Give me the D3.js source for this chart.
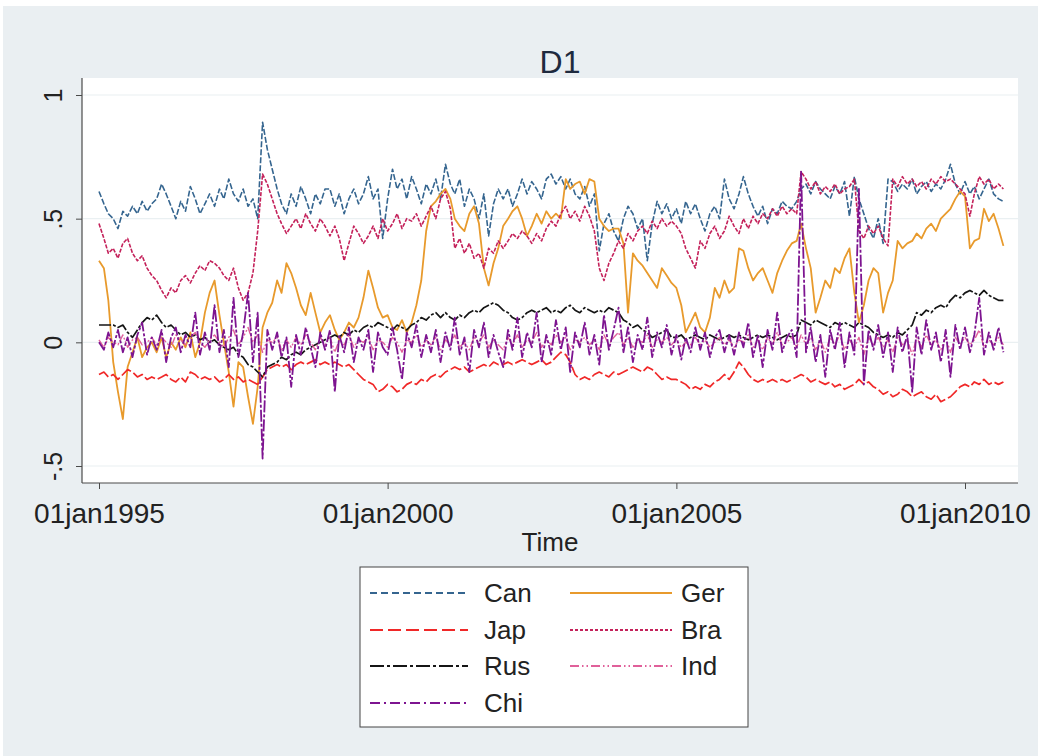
<!DOCTYPE html>
<html><head><meta charset="utf-8">
<script src="https://cdn.jsdelivr.net/npm/d3@7/dist/d3.min.js"></script>
<style>body{margin:0;background:#fff;}svg{display:block;font-family:"Liberation Sans",Arial,sans-serif;}</style>
</head><body>
<svg id="c" width="1038" height="756"></svg>
<script>
// ---- data (monthly readings, Jan 1995 – Sep 2010) ----
const seriesNames = ["Can","Ger","Jap","Bra","Rus","Ind","Chi"];
const yTicks = [-0.5, 0, 0.5, 1];
const yTickLabels = ["-.5","0",".5","1"];
const xTickYears = [1995, 2000, 2005, 2010];
const xTickLabels = ["01jan1995","01jan2000","01jan2005","01jan2010"];

const Can = [
0.61,0.56,0.52,0.50,0.46,0.53,0.51,0.55,0.52,0.57,0.53,0.56,
0.58,0.64,0.60,0.55,0.50,0.57,0.53,0.63,0.58,0.52,0.56,0.60,
0.55,0.62,0.58,0.66,0.60,0.57,0.62,0.55,0.58,0.50,0.89,0.78,
0.70,0.62,0.56,0.52,0.60,0.55,0.63,0.58,0.52,0.60,0.56,0.62,
0.62,0.55,0.60,0.52,0.58,0.62,0.56,0.60,0.67,0.58,0.62,0.42,
0.58,0.70,0.62,0.66,0.58,0.67,0.62,0.56,0.64,0.60,0.66,0.58,
0.72,0.64,0.60,0.66,0.55,0.62,0.58,0.50,0.60,0.43,0.56,0.62,
0.58,0.62,0.55,0.60,0.66,0.60,0.65,0.62,0.58,0.66,0.68,0.64,
0.67,0.62,0.66,0.60,0.58,0.63,0.55,0.60,0.37,0.48,0.52,0.45,
0.41,0.50,0.55,0.52,0.46,0.50,0.33,0.48,0.57,0.52,0.56,0.50,
0.54,0.48,0.57,0.52,0.56,0.50,0.45,0.52,0.55,0.50,0.66,0.58,
0.54,0.60,0.67,0.60,0.55,0.51,0.55,0.48,0.54,0.52,0.57,0.55,
0.54,0.57,0.62,0.64,0.60,0.65,0.62,0.60,0.58,0.63,0.60,0.65,
0.51,0.67,0.58,0.52,0.46,0.42,0.50,0.40,0.66,0.65,0.61,0.64,
0.62,0.66,0.60,0.63,0.65,0.61,0.64,0.62,0.66,0.72,0.64,0.60,
0.65,0.60,0.63,0.58,0.62,0.66,0.60,0.58,0.57];

const Ger = [
0.33,0.30,0.17,-0.08,-0.20,-0.31,-0.10,-0.04,0.02,-0.06,-0.02,0.00,
-0.04,0.02,-0.06,0.00,-0.03,0.02,-0.02,0.04,-0.06,0.00,0.12,0.20,
0.25,0.11,0.00,-0.12,-0.26,-0.08,-0.10,-0.22,-0.33,-0.18,0.06,0.12,
0.16,0.25,0.20,0.32,0.28,0.22,0.15,0.11,0.20,0.12,0.04,0.08,
0.11,0.05,0.01,0.04,0.08,0.06,0.10,0.18,0.29,0.22,0.14,0.10,
0.11,0.06,0.05,0.09,0.04,0.08,0.15,0.25,0.45,0.55,0.57,0.60,
0.62,0.58,0.50,0.47,0.45,0.52,0.55,0.48,0.30,0.23,0.32,0.38,
0.47,0.50,0.53,0.55,0.50,0.43,0.47,0.52,0.48,0.53,0.50,0.52,
0.50,0.66,0.62,0.64,0.65,0.60,0.66,0.65,0.50,0.47,0.45,0.46,
0.46,0.40,0.12,0.36,0.33,0.31,0.28,0.25,0.22,0.30,0.27,0.24,
0.22,0.15,0.04,0.08,0.12,0.06,0.04,0.10,0.22,0.18,0.25,0.20,
0.22,0.38,0.37,0.30,0.25,0.28,0.30,0.25,0.20,0.28,0.33,0.37,
0.40,0.41,0.48,0.38,0.30,0.12,0.18,0.25,0.22,0.30,0.28,0.34,
0.38,0.20,0.08,0.15,0.25,0.30,0.28,0.12,0.20,0.25,0.41,0.38,
0.40,0.41,0.44,0.42,0.46,0.48,0.45,0.50,0.52,0.54,0.58,0.61,
0.59,0.38,0.41,0.42,0.54,0.49,0.52,0.46,0.39];

const Jap = [
-0.13,-0.12,-0.14,-0.13,-0.15,-0.13,-0.11,-0.12,-0.14,-0.13,-0.15,-0.14,
-0.15,-0.14,-0.13,-0.15,-0.16,-0.14,-0.16,-0.12,-0.13,-0.15,-0.14,-0.15,
-0.14,-0.16,-0.15,-0.13,-0.15,-0.14,-0.16,-0.15,-0.16,-0.17,-0.14,-0.11,
-0.10,-0.09,-0.10,-0.09,-0.11,-0.09,-0.08,-0.09,-0.08,-0.07,-0.09,-0.08,
-0.09,-0.08,-0.09,-0.10,-0.09,-0.11,-0.13,-0.15,-0.16,-0.17,-0.20,-0.19,
-0.17,-0.18,-0.20,-0.19,-0.17,-0.16,-0.17,-0.15,-0.16,-0.14,-0.13,-0.14,
-0.12,-0.11,-0.10,-0.11,-0.10,-0.12,-0.11,-0.10,-0.09,-0.10,-0.08,-0.09,
-0.09,-0.08,-0.09,-0.08,-0.07,-0.08,-0.09,-0.08,-0.07,-0.09,-0.08,-0.06,
-0.04,-0.05,-0.08,-0.13,-0.15,-0.14,-0.15,-0.13,-0.12,-0.13,-0.14,-0.12,
-0.13,-0.12,-0.11,-0.10,-0.11,-0.12,-0.10,-0.11,-0.13,-0.15,-0.14,-0.15,
-0.15,-0.16,-0.17,-0.19,-0.18,-0.19,-0.17,-0.18,-0.16,-0.15,-0.13,-0.15,
-0.12,-0.08,-0.10,-0.13,-0.15,-0.16,-0.15,-0.16,-0.15,-0.16,-0.15,-0.16,
-0.15,-0.14,-0.13,-0.14,-0.16,-0.15,-0.16,-0.17,-0.16,-0.18,-0.17,-0.19,
-0.18,-0.17,-0.15,-0.17,-0.16,-0.18,-0.19,-0.21,-0.20,-0.22,-0.21,-0.19,
-0.20,-0.22,-0.21,-0.20,-0.22,-0.23,-0.21,-0.24,-0.23,-0.22,-0.20,-0.18,
-0.17,-0.18,-0.16,-0.17,-0.15,-0.17,-0.16,-0.17,-0.16];

const Bra = [
0.48,0.42,0.36,0.38,0.34,0.40,0.42,0.36,0.33,0.35,0.30,0.27,
0.25,0.21,0.18,0.22,0.20,0.25,0.27,0.24,0.28,0.31,0.29,0.33,
0.32,0.30,0.27,0.25,0.30,0.22,0.17,0.20,0.28,0.45,0.68,0.64,
0.58,0.52,0.48,0.44,0.47,0.50,0.46,0.52,0.48,0.45,0.50,0.47,
0.43,0.47,0.42,0.33,0.40,0.47,0.44,0.40,0.43,0.47,0.42,0.50,
0.45,0.48,0.52,0.46,0.50,0.49,0.52,0.47,0.51,0.55,0.50,0.58,
0.61,0.54,0.38,0.42,0.36,0.40,0.34,0.36,0.30,0.38,0.36,0.41,
0.38,0.41,0.44,0.42,0.45,0.43,0.40,0.44,0.41,0.46,0.49,0.47,
0.52,0.55,0.50,0.53,0.49,0.55,0.51,0.45,0.30,0.25,0.32,0.36,
0.41,0.38,0.44,0.41,0.45,0.47,0.44,0.49,0.46,0.50,0.47,0.49,
0.47,0.44,0.38,0.34,0.30,0.41,0.38,0.44,0.47,0.42,0.45,0.51,
0.47,0.44,0.50,0.46,0.51,0.48,0.52,0.50,0.54,0.51,0.55,0.52,
0.54,0.52,0.69,0.66,0.62,0.65,0.60,0.63,0.61,0.64,0.60,0.62,
0.63,0.66,0.45,0.42,0.47,0.44,0.47,0.42,0.39,0.66,0.63,0.67,
0.64,0.66,0.63,0.65,0.62,0.66,0.64,0.67,0.65,0.66,0.64,0.62,
0.60,0.51,0.60,0.67,0.64,0.66,0.62,0.64,0.62];

const Rus = [
0.07,0.07,0.07,0.07,0.06,0.07,0.04,0.02,0.05,0.08,0.10,0.09,
0.11,0.08,0.06,0.07,0.05,0.03,0.04,0.02,0.03,0.01,0.02,0.00,
0.01,-0.01,-0.02,-0.03,-0.02,-0.05,-0.06,-0.09,-0.10,-0.12,-0.14,-0.10,
-0.09,-0.08,-0.06,-0.07,-0.05,-0.04,-0.05,-0.03,-0.02,-0.01,0.00,0.01,
0.02,0.03,0.02,0.04,0.03,0.05,0.04,0.06,0.07,0.06,0.08,0.07,
0.06,0.05,0.07,0.06,0.05,0.07,0.08,0.10,0.09,0.11,0.12,0.10,
0.12,0.10,0.09,0.11,0.10,0.12,0.13,0.12,0.14,0.15,0.16,0.15,
0.13,0.12,0.10,0.09,0.10,0.12,0.13,0.12,0.13,0.14,0.12,0.13,
0.12,0.14,0.15,0.13,0.12,0.14,0.13,0.12,0.13,0.12,0.14,0.13,
0.12,0.09,0.08,0.06,0.07,0.05,0.04,0.02,0.03,0.04,0.05,0.02,
0.02,0.03,0.01,0.02,0.03,0.02,0.01,0.03,0.02,0.01,0.02,0.03,
0.02,0.03,0.02,0.01,0.02,0.03,0.02,0.03,0.02,0.01,0.02,0.03,
0.02,0.03,0.09,0.08,0.07,0.09,0.08,0.07,0.06,0.08,0.07,0.08,
0.07,0.06,0.08,0.07,0.06,0.04,0.03,0.02,0.03,0.02,0.04,0.03,
0.05,0.07,0.12,0.11,0.13,0.12,0.14,0.15,0.14,0.17,0.19,0.18,
0.20,0.21,0.20,0.19,0.21,0.19,0.18,0.17,0.17];

const Ind = [
0.01,-0.02,0.02,0.00,-0.01,0.03,-0.02,0.01,0.02,-0.01,0.00,0.02,
-0.01,0.02,0.00,-0.02,0.03,0.01,-0.01,0.02,0.04,0.00,-0.02,0.01,
0.03,0.00,-0.02,0.02,0.05,-0.01,0.02,0.06,0.00,0.03,-0.04,0.01,
0.00,0.02,-0.03,0.01,-0.02,0.02,-0.01,0.03,0.00,-0.03,0.02,-0.01,
0.02,-0.04,0.01,-0.01,0.03,-0.02,0.01,0.00,0.02,-0.03,0.01,0.00,
-0.02,0.02,0.00,-0.04,0.01,0.00,0.03,-0.02,0.01,-0.01,0.02,-0.03,
0.01,-0.01,0.03,-0.02,0.00,-0.03,0.02,0.00,0.03,-0.02,0.01,-0.01,
-0.03,0.02,-0.01,0.03,-0.02,0.01,0.00,0.04,-0.02,0.01,-0.01,0.03,
0.00,0.02,-0.03,0.01,0.00,0.02,-0.01,0.01,-0.03,0.03,-0.01,0.02,
0.04,-0.01,0.02,-0.02,0.01,0.00,0.03,-0.02,0.01,0.00,0.02,-0.01,
0.01,-0.02,0.00,-0.01,0.02,-0.01,0.01,-0.02,0.00,0.02,-0.01,0.01,
-0.02,0.01,0.00,0.03,-0.02,0.01,-0.03,0.02,-0.01,0.04,-0.01,0.00,
0.02,-0.02,0.03,-0.01,0.02,-0.03,0.01,-0.04,0.02,-0.01,0.03,-0.03,
0.01,-0.02,0.02,-0.05,0.02,-0.01,0.02,-0.02,0.01,-0.04,0.02,-0.01,
0.01,-0.05,0.02,-0.02,0.03,-0.01,0.01,-0.03,0.02,-0.04,0.02,-0.01,
0.02,-0.01,0.01,0.05,-0.02,0.01,-0.01,0.02,-0.01];

const Chi = [
0.00,-0.03,0.04,-0.02,0.05,-0.04,0.02,-0.06,0.03,0.08,-0.05,0.02,
-0.03,0.05,-0.08,0.02,0.06,-0.04,0.03,-0.02,0.12,-0.05,0.04,-0.03,
0.15,-0.04,0.05,-0.10,0.18,-0.06,0.04,0.20,-0.08,0.12,-0.47,0.05,
-0.03,0.04,-0.06,0.02,-0.18,0.03,-0.05,0.06,-0.02,-0.10,0.04,-0.03,
0.05,-0.20,0.03,-0.04,0.06,-0.08,0.02,-0.03,0.05,-0.12,0.04,-0.02,
-0.05,0.06,-0.03,-0.15,0.04,-0.02,0.07,-0.06,0.03,-0.04,0.05,-0.08,
0.04,-0.03,0.10,-0.05,0.02,-0.12,0.05,-0.02,0.08,-0.06,0.03,-0.04,
-0.10,0.05,-0.03,0.10,-0.06,0.04,-0.02,0.12,-0.08,0.03,-0.05,0.09,
-0.03,0.06,-0.12,0.04,-0.02,0.08,-0.05,0.03,-0.09,0.11,-0.03,0.05,
0.14,-0.04,0.06,-0.08,0.03,-0.03,0.10,-0.06,0.04,-0.02,0.07,-0.05,
0.03,-0.07,0.02,-0.04,0.06,-0.03,0.04,-0.06,0.02,0.05,-0.04,0.03,
-0.05,0.04,-0.02,0.08,-0.06,0.03,-0.10,0.05,-0.03,0.12,-0.04,0.02,
0.05,-0.06,0.69,-0.04,0.06,-0.08,0.03,-0.14,0.05,-0.03,0.08,-0.10,
0.04,-0.05,0.62,-0.17,0.05,-0.03,0.07,-0.06,0.04,-0.12,0.06,-0.04,
0.03,-0.20,0.06,-0.05,0.09,-0.03,0.04,-0.08,0.05,-0.14,0.07,-0.03,
0.06,-0.04,0.03,0.18,-0.05,0.04,-0.03,0.06,-0.04];

const seriesValues = [Can, Ger, Jap, Bra, Rus, Ind, Chi];
const seriesColors = ["#35658f","#e89a2c","#f02828","#c4215a","#151515","#e0609a","#7d1490"];
// patterns for legend keys
const legendDash = ["7,4","none","13,5","3,2","14,3,3,3","9,3,1.5,3,1.5,3","10,4,2,4"];
// patterns for the dense data paths
const pathDash = ["6,2","none","12,3","4,1.5","12,2,3,2","8,2,2,2,2,2","12,2,3,2"];
const seriesWidth = [1.6,1.8,1.7,1.6,1.7,1.4,1.8];

// ---- chart ----
const svg = d3.select("#c");
svg.append("rect").attr("x",3).attr("y",6).attr("width",1035).attr("height",750).attr("fill","#eaeff2");

const plot = {left:82, right:1018, top:78, bottom:483};
svg.append("rect").attr("x",plot.left).attr("y",plot.top)
  .attr("width",plot.right-plot.left).attr("height",plot.bottom-plot.top).attr("fill","#ffffff");

const x = d3.scaleTime().domain([new Date(1995,0,1), new Date(2010,0,1)]).range([99, 965]);
const y = d3.scaleLinear().domain([-0.5, 1]).range([466, 95]);

const months = d3.timeMonth.range(new Date(1995,0,1), new Date(2010,9,1));

// grid
svg.append("g").selectAll("line").data(yTicks).join("line")
  .attr("x1",plot.left+1).attr("x2",plot.right).attr("y1",d=>y(d)).attr("y2",d=>y(d))
  .attr("stroke","#eaf0f2").attr("stroke-width",1.2);

// series
const line = d3.line().x((d,i)=>x(months[i])).y(d=>y(d));
seriesNames.forEach((name,k)=>{
  svg.append("path").datum(seriesValues[k])
    .attr("d",line).attr("fill","none")
    .attr("stroke",seriesColors[k]).attr("stroke-width",seriesWidth[k])
    .attr("stroke-dasharray",pathDash[k]).attr("stroke-linejoin","round");
});

// axes
const axisColor = "#4a4a4a";
const yAxis = d3.axisLeft(y).tickValues(yTicks).tickSize(6).tickSizeOuter(0).tickFormat((d,i)=>yTickLabels[i]);
const gy = svg.append("g").attr("transform",`translate(${plot.left},0)`).call(yAxis);
gy.select(".domain").remove();
gy.selectAll(".tick line").attr("stroke",axisColor);
gy.selectAll(".tick text").attr("font-size",25).attr("fill","#222").attr("x",null).attr("dy",null)
  .attr("text-anchor","middle").attr("transform","translate(-20,0) rotate(-90)");
svg.append("line").attr("x1",plot.left).attr("x2",plot.left).attr("y1",plot.top).attr("y2",plot.bottom)
  .attr("stroke",axisColor).attr("stroke-width",1.2);

const xAxis = d3.axisBottom(x).tickValues(xTickYears.map(v=>new Date(v,0,1))).tickSize(6).tickSizeOuter(0)
  .tickFormat((d,i)=>xTickLabels[i]);
const gx = svg.append("g").attr("transform",`translate(0,${plot.bottom})`).call(xAxis);
gx.select(".domain").remove();
gx.selectAll(".tick line").attr("stroke",axisColor);
gx.selectAll(".tick text").attr("font-size",28).attr("fill","#222").attr("y",40).attr("dy",null);
svg.append("line").attr("x1",plot.left).attr("x2",plot.right).attr("y1",plot.bottom).attr("y2",plot.bottom)
  .attr("stroke",axisColor).attr("stroke-width",1.2);

// titles
svg.append("text").attr("x",560).attr("y",73).attr("text-anchor","middle")
  .attr("font-size",32).attr("fill","#1e2a3e").text("D1");
svg.append("text").attr("x",550).attr("y",551).attr("text-anchor","middle")
  .attr("font-size",26).attr("fill","#222").text("Time");

// legend
const lg = svg.append("g");
lg.append("rect").attr("x",360).attr("y",567).attr("width",388).attr("height",160)
  .attr("fill","#fff").attr("stroke","#444").attr("stroke-width",1);
const legendPos = [[0,0],[1,0],[0,1],[1,1],[0,2],[1,2],[0,3]];
const colX = [[370,468,484],[570,672,681]];
const rowY = [593,630,666,703];
seriesNames.forEach((name,k)=>{
  const [c,r] = legendPos[k];
  lg.append("line").attr("x1",colX[c][0]).attr("x2",colX[c][1]).attr("y1",rowY[r]).attr("y2",rowY[r])
    .attr("stroke",seriesColors[k]).attr("stroke-width",2).attr("stroke-dasharray",legendDash[k]);
  lg.append("text").attr("x",colX[c][2]).attr("y",rowY[r]+9).attr("font-size",26).attr("fill","#222").text(name);
});
</script>
</body></html>
